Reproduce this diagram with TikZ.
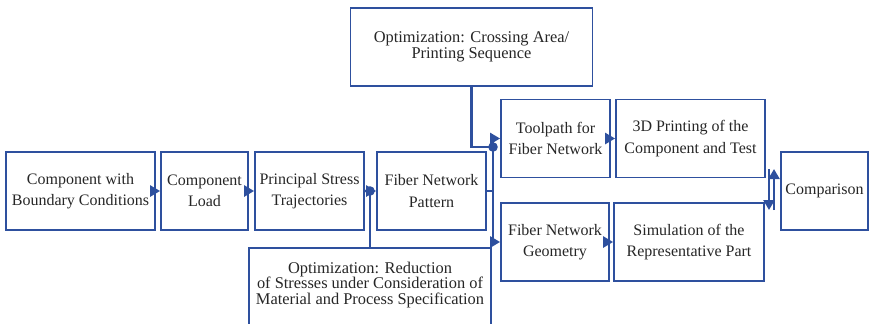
\documentclass[tikz,border=0pt]{standalone}
\usepackage{fontspec}
\setmainfont{Liberation Serif}
\usetikzlibrary{arrows.meta}
\definecolor{flowblue}{RGB}{46,80,158}

\begin{document}
\begin{tikzpicture}[x=0.5pt, y=-0.5pt,
  every node/.style={font=\fontsize{8}{10.6}\selectfont, align=center, text=black!85},
  box/.style={draw=flowblue, line width=0.9pt, minimum height=39pt, inner sep=1pt},
  optbox/.style={box, font=\fontsize{8.2}{7.8}\selectfont, minimum width=121pt},
  link/.style={draw=flowblue, line width=1.4pt},
  >={Triangle[length=5pt,width=5.5pt]}]
  \useasboundingbox (0,0) rectangle (869,323);

  % main row
  \node[box, minimum width=74.5pt] (cwb) at (80.5,191) {Component with\\Boundary Conditions};
  \node[box, minimum width=43.5pt] (load) at (204.5,191) {Component\\Load};
  \node[box, minimum width=54.5pt] (pst) at (309.5,191) {Principal Stress\\Trajectories};
  \node[box, minimum width=54.5pt] (pattern) at (431.5,191) {Fiber Network\\Pattern};

  % optimization boxes
  \node[optbox] (optcross) at (471.5,47) {Optimization: Crossing Area/\\Printing Sequence};
  \node[optbox, anchor=north, minimum height=0pt, inner ysep=7pt, text depth=35pt]
    (optstress) at (370,247) {Optimization: Reduction\\of Stresses under Consideration of\\Material and Process Specification};

  % right part
  \node[box, minimum width=54.5pt] (toolpath) at (555.5,138.5) {Toolpath for\\Fiber Network};
  \node[box, minimum width=74.5pt] (printing) at (690.5,138.5) {3D Printing of the\\Component and Test};
  \node[box, minimum width=54pt] (geometry) at (555,242) {Fiber Network\\Geometry};
  \node[box, minimum width=75pt] (simulation) at (689,242) {Simulation of the\\Representative Part};
  \node[box, minimum width=43.5pt] (comparison) at (824.5,191) {Comparison};

  % junctions
  \coordinate (jstress) at (optstress.north |- pst.east);
  \coordinate (split) at (493,191);
  \coordinate (jcross) at (493,147);
  \coordinate (dnA) at (769,169);
  \coordinate (dnB) at (769,210);
  \coordinate (upA) at (774,210);
  \coordinate (upB) at (774,169);

  % connectors
  \draw[link,->] (cwb) -- (load);
  \draw[link,->] (load) -- (pst);
  \draw[link,->] (pst) -- (pattern);
  \draw[link] (optstress.north) -- (jstress);
  \draw[link] (pattern) -- (split);
  \draw[link,->] (split) |- (toolpath);
  \draw[link,->] (split) |- (geometry);
  \draw[link] (optcross.south) |- (jcross);
  \draw[link,->] (toolpath) -- (printing);
  \draw[link,->] (geometry) -- (simulation);
  \draw[link,->] (dnA) -- (dnB);
  \draw[link,->] (upA) -- (upB);

  % dots
  \fill[flowblue] (jstress) circle (2.4pt);
  \fill[flowblue] (jcross) circle (2.4pt);
\end{tikzpicture}
\end{document}
